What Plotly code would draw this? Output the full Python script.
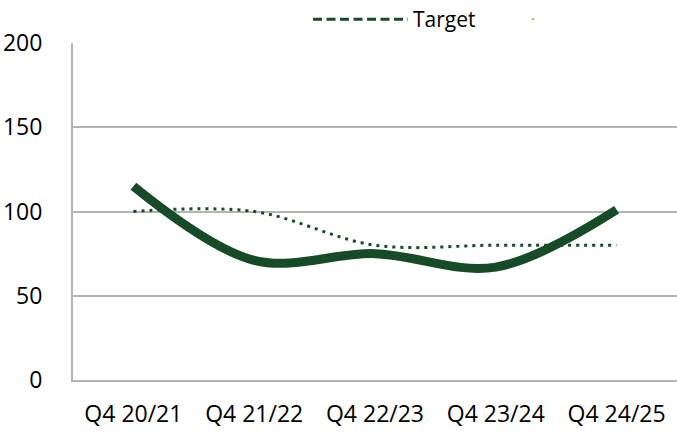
import plotly.graph_objects as go

quarters = ["Q4 20/21", "Q4 21/22", "Q4 22/23", "Q4 23/24", "Q4 24/25"]
actual = [115, 71, 75, 67, 101]
target = [100, 100, 80, 80, 80]

GREEN = "#174a27"
GRID = "#b4b4b4"
FONT = "Open Sans, Noto Sans, sans-serif"

fig = go.Figure()

# actual performance, thick smoothed line
fig.add_trace(go.Scatter(
    x=quarters, y=actual, mode="lines", name=" ",
    line=dict(color=GREEN, width=9, shape="spline", smoothing=1),
    showlegend=False,
))

# target, dotted smoothed line
fig.add_trace(go.Scatter(
    x=quarters, y=target, mode="lines", name="Target",
    line=dict(color=GREEN, width=3, shape="spline", smoothing=1, dash="3px,5px"),
    showlegend=False,
))

# legend entries
fig.add_trace(go.Scatter(
    x=[None], y=[None], mode="lines", name="Target",
    line=dict(color=GREEN, width=3, dash="9px,4.5px"),
))
fig.add_trace(go.Scatter(
    x=[None], y=[None], mode="markers", name=" ",
    marker=dict(color="#b8b832", size=2, symbol="square"),
))

fig.update_layout(
    width=677, height=433,
    margin=dict(l=73, r=0, t=43, b=53, autoexpand=False),
    paper_bgcolor="white", plot_bgcolor="white",
    font=dict(family=FONT, size=23, color="#000000"),
    legend=dict(
        orientation="h", xref="container", yref="container",
        x=0.455, y=0.955, xanchor="left", yanchor="middle",
        font=dict(size=21), itemwidth=95, bgcolor="rgba(0,0,0,0)",
        traceorder="normal",
    ),
    xaxis=dict(
        type="category", showgrid=False, showline=True, linecolor=GRID, linewidth=2,
        ticks="outside", ticklen=12, tickcolor="rgba(0,0,0,0)",
        range=[-0.5, 4.5],
    ),
    yaxis=dict(
        range=[0, 200], tickvals=[0, 50, 100, 150, 200],
        showgrid=True, gridcolor=GRID, gridwidth=2,
        showline=True, linecolor=GRID, linewidth=2,
        zeroline=False, ticks="outside", ticklen=24, tickcolor="rgba(0,0,0,0)",
    ),
)

fig.write_html("out.html")
